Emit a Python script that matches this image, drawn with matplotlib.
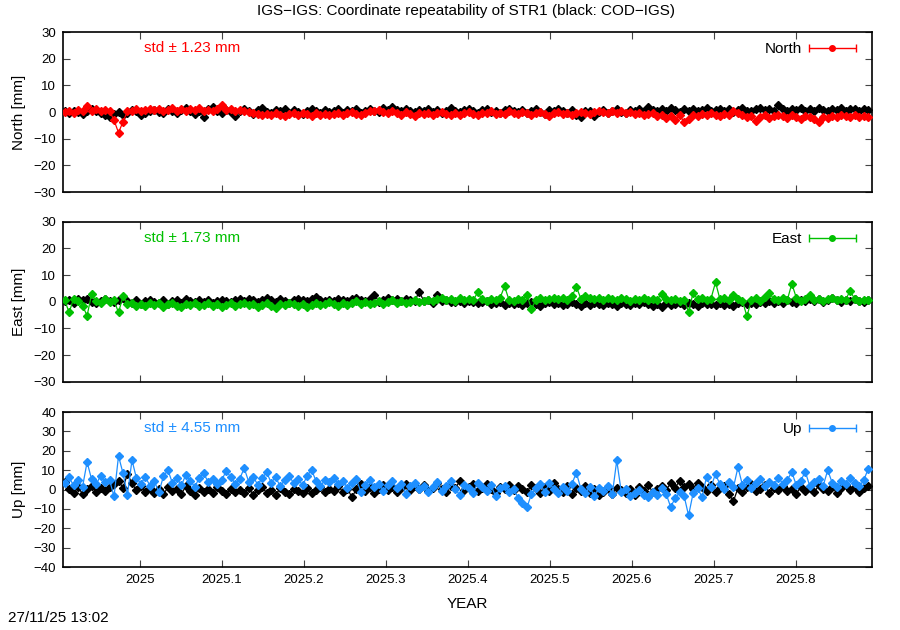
import numpy as np
import matplotlib.pyplot as plt
from matplotlib.ticker import MultipleLocator, FuncFormatter
from matplotlib.legend_handler import HandlerErrorbar
from matplotlib.container import ErrorbarContainer

plt.rcParams['font.family'] = ['Liberation Sans', 'DejaVu Sans']
plt.rcParams['font.size'] = 11

# epochs: one solution every two days
t0 = 2024.908
step = 2 / 365.25
n = 180

# North [mm]
north_cod = [
    0.3, -0.5, 0.6, 0.2, -0.8, 0.4, 1.0, 0.5, -0.3, -1.2, -1.8, -0.6, 0.2, -0.9, -0.4, 0.7, 0.3, -1.0, -0.2, 0.5,
    0.9, 0.2, -0.4, 1.2, 0.6, -0.3, 0.8, 1.4, 0.3, -0.7, 0.5, -1.9, 1.0, 2.0, 0.4, -0.5, 0.9, 0.2, -1.6, 0.6,
    1.1, 0.3, -0.6, 0.8, 1.5, 0.2, -0.4, 0.9, 0.5, 1.3, -0.2, 0.7, 0.1, -0.8, 0.6, 1.2, 0.4, -0.3, 0.8, 0.2,
    0.5, 1.1, -0.2, 0.7, 0.3, 1.0, -0.5, 0.4, 1.3, 0.6, 0.2, 1.5, 0.8, 1.9, 0.9, 0.3, 1.2, 0.5, -0.1, 0.7,
    0.4, 1.1, 0.2, 0.8, -0.3, 0.5, 1.4, 0.6, 0.1, 0.9, 1.2, 0.3, -0.4, 0.7, 1.0, 0.2, 0.6, -0.5, 0.8, 1.3,
    0.5, 0.1, 0.9, -0.3, 0.6, 1.1, 0.2, -0.6, 0.7, 0.3, 1.0, 0.4, -0.2, 0.8, -0.9, -1.8, 0.3, 0.6, -1.5, 0.2,
    0.7, -0.4, 0.5, 1.0, 0.2, -0.3, 0.8, 0.4, 1.3, 0.6, 1.8, 0.9, 0.3, 1.1, 0.5, 1.4, 0.7, 0.2, 1.0, 0.6,
    1.2, 0.4, 0.9, 1.5, 0.3, 0.8, 1.1, 0.5, 1.3, 0.2, 0.9, 1.6, 0.6, 0.4, 1.0, 1.4, 0.7, 1.1, 0.3, 2.6,
    1.0, 0.5, 1.3, 0.8, 1.7, 0.4, 1.1, 0.6, 1.4, 0.9, 0.3, 1.2, 0.7, 1.5, 0.5, 1.0, 1.3, 0.6, 1.1, 0.8,
]
north_igs = [
    0.2, 0.6, -0.3, 0.8, 0.4, 2.4, 0.5, 1.0, 0.3, 0.7, 0.4, -3.0, -7.7, -3.6, 0.3, 0.6, 1.1, 0.4, 0.9, 1.3,
    0.7, 1.2, 0.5, 0.9, 1.4, 0.6, 1.0, 0.3, 1.1, 0.8, 1.5, 0.4, 0.9, 0.6, 1.2, 2.8, 0.7, 1.0, 0.3, 0.8,
    0.5, 0.2, -0.4, -0.8, -1.2, -0.6, -1.0, -0.3, -0.9, -1.4, -0.7, -0.2, -1.1, -0.5, -0.8, -1.3, -0.4, -0.9, -0.6, -1.0,
    -0.7, -0.3, -1.1, -0.5, 0.2, -0.8, -1.2, -0.4, 0.3, 0.6, 0.9, 0.2, -0.3, 0.5, -0.2, -0.9, 0.1, -0.6, -1.3, -0.4,
    -0.8, -0.2, -1.0, -0.5, 0.1, -0.7, -1.2, -0.3, -0.9, -0.4, 0.2, -0.6, -1.1, -0.5, -0.2, 0.4, -0.8, -0.3, -0.6, 0.3,
    -0.2, -0.7, 0.1, -0.4, -0.9, -0.3, 0.2, -0.6, -1.3, -0.5, 0.0, -0.8, -0.3, -1.0, -0.5, 0.2, -0.4, -0.7, -0.1, 0.3,
    0.1, -0.3, 0.4, -0.2, 0.3, -0.5, 0.0, -0.8, -0.4, -1.1, -0.6, -0.2, -1.3, -0.9, -2.2, -1.5, -2.8, -1.2, -3.6, -2.4,
    -1.0, -1.6, -0.7, -1.2, -0.4, -0.9, -1.5, -0.6, -1.1, 0.3, -0.5, -1.0, -2.0, -1.4, -3.2, -1.8, -1.1, -2.3, -1.5, -0.9,
    -1.6, -2.1, -1.2, -1.8, -2.6, -1.4, -1.9, -2.4, -3.8, -1.7, -2.2, -1.3, -1.9, -1.0, -1.6, -2.0, -1.2, -1.8, -1.4, -1.7,
]

# East [mm]
east_cod = [
    0.2, 0.8, -0.3, 1.2, 0.5, 0.9, 0.1, -0.6, 0.4, 1.0, 0.3, -0.2, 0.6, 1.3, 0.2, -0.4, 0.5, -0.9, 0.3, 0.7,
    0.1, -0.3, 0.6, -0.8, 0.2, 0.5, -0.5, 0.9, 0.3, -0.2, 0.7, 0.1, 0.6, -0.4, 0.4, 0.8, 0.2, -0.1, 0.5, 0.9,
    0.3, 1.1, 0.6, -0.2, 0.8, 1.4, 0.5, 0.1, 0.9, 0.4, -0.3, 0.7, 1.2, 0.6, 0.2, 0.9, 1.8, 0.5, 0.3, 0.8,
    0.4, 1.0, 0.6, 0.2, 0.9, 1.5, 0.7, 0.3, 1.2, 2.6, 0.1, 0.8, 1.3, 0.5, 0.9, 0.2, 1.0, 0.6, 0.3, 3.8,
    0.3, 0.6, -0.4, 2.5, 0.2, 0.5, -0.2, 0.1, 0.4, -0.5, 0.3, 0.0, -0.6, -0.2, 0.2, -0.8, -0.3, 0.1, -1.2, -0.5,
    -0.8, -0.3, -1.1, -0.5, 0.1, -0.9, -1.4, -0.6, -0.2, -1.0, -0.4, -1.3, -0.7, -0.1, -0.9, -1.6, -0.5, -1.1, -0.3, -0.8,
    -1.2, -0.5, -0.9, -1.5, -0.4, -0.8, -1.3, -0.6, -1.0, -0.2, -0.7, -1.4, -0.9, -1.8, -0.5, -1.1, -0.8, -0.3, -1.2, -0.6,
    -0.9, -1.5, -0.4, -1.0, -0.7, -1.3, -0.5, -1.1, -0.8, -1.6, -0.6, -0.2, -1.0, -0.4, -0.9, -0.1, -0.6, 0.3, -0.5, 0.2,
    -0.3, 0.5, 0.1, -0.4, 0.8, 0.3, 1.2, 0.4, 0.9, -0.2, 0.6, 1.5, 0.5, 0.1, 0.8, 0.3, 0.9, 0.4, -0.1, 0.6,
]
east_igs = [
    0.6, -4.0, 1.2, 0.3, -1.5, -5.2, 2.8, 0.4, -0.6, 0.9, -0.2, 0.5, -4.0, 2.0, -0.8, -0.3, -1.6, -0.9, -1.4, -0.5,
    -1.2, -0.6, -1.8, -1.0, -0.4, -1.5, -2.1, -0.8, -1.3, -0.5, -1.7, -1.1, -0.3, -1.4, -0.9, -2.0, -1.2, -0.6, -1.5, -1.0,
    -0.5, -1.3, -0.8, -1.9, -1.1, -0.4, -1.6, -2.4, -0.9, -1.2, -0.3, -1.0, -1.5, -0.7, -1.8, -1.1, -0.5, -1.3, -0.8, -0.2,
    -0.9, -1.4, -0.6, -1.1, -0.3, 0.4, -0.8, -0.2, -1.0, -0.5, 0.2, -0.7, -0.1, 0.5, -0.4, 0.3, -0.6, 0.1, 0.6, -0.2,
    0.2, 0.7, 0.3, 0.9, 1.3, 0.6, 1.1, 0.4, 1.5, 0.8, 1.2, 0.5, 3.5, 0.9, 0.3, 1.0, 0.6, 1.4, 5.8, 0.7,
    0.4, 1.1, 0.6, 2.6, -2.7, 0.8, 1.3, 0.5, 1.0, 1.6, 0.9, 1.4, 0.7, 2.0, 5.6, 1.2, 2.3, 1.5, 0.9, 1.3,
    0.8, 1.5, 1.1, 0.6, 1.3, 0.9, 0.4, 1.0, 0.7, 1.4, 0.5, 1.2, 0.8, 3.1, 0.9, 0.6, 1.1, 0.3, 0.8, -3.8,
    3.3, 1.0, 1.6, 0.7, 1.2, 7.3, 0.9, 1.5, 0.5, 2.6, 1.1, 0.4, -5.5, 0.8, 1.4, 0.2, 1.8, 3.4, 0.9, 0.6,
    1.3, 0.7, 6.8, 1.5, 0.4, 1.0, 2.4, 0.6, 1.2, 0.3, 0.9, 1.6, 0.5, 1.1, 0.8, 4.2, 1.0, 0.4, 0.7, 0.5,
]

# Up [mm]
up_cod = [
    3.8, 0.5, -1.6, 1.2, -2.4, 0.3, 2.0, -1.1, 0.8, -0.6, 1.5, 2.6, 4.4, 1.0, 8.0, 3.2, -0.5, 1.8, -1.4, 0.6,
    -1.8, 0.4, -2.5, 1.1, -0.9, 0.2, -2.2, 1.6, -1.0, -2.8, 0.7, -1.5, 0.1, -2.0, 1.3, -0.7, -2.4, 0.5, -1.2, -0.3,
    -1.9, 0.8, -2.6, -0.4, 1.2, -1.7, -0.2, -2.9, 0.6, -1.1, -2.3, 0.3, -0.8, -1.6, 0.9, -2.0, -0.5, 1.5, -1.3, 0.2,
    -0.6, 1.8, -1.4, 0.5, -4.0, 0.2, 2.6, -0.9, 1.1, -1.8, 0.4, 2.2, -0.3, 1.4, -1.2, 0.7, 3.1, -0.5, 1.6, 0.1,
    2.4, -0.7, 1.0, 3.5, 0.3, -1.5, 1.9, 0.6, 4.2, -0.4, 1.3, 2.7, -1.0, 0.8, 3.0, 0.2, -1.7, 1.5, 0.4, 2.1,
    -0.5, 1.7, 0.3, -1.4, 2.5, 0.8, -2.0, 1.2, -0.6, 3.3, 0.5, -1.1, 1.8, -2.5, 0.7, -0.9, 2.0, -1.6, 0.4, -3.0,
    -1.2, 0.6, -2.2, 0.9, -0.4, -1.8, 0.3, -2.6, 1.1, -0.7, 2.4, -1.3, 0.5, 1.8, -0.2, 3.2, 0.8, 4.6, 1.5, 2.8,
    0.4, 3.6, 1.2, -0.6, 2.3, -1.5, 0.9, 2.0, -2.4, -6.0, 0.7, -1.1, 1.4, 3.0, -0.8, 0.5, 2.2, -1.9, 0.9, -0.3,
    1.6, -1.0, 0.4, -2.2, 1.3, -0.6, 0.9, -1.5, 2.1, 0.2, -0.8, 1.5, -1.9, 0.6, 2.4, -0.4, 1.1, -1.2, 0.8, 1.7,
]
up_igs = [
    3.5, 6.2, 2.1, 4.8, 1.5, 14.2, 5.3, 2.6, 7.1, 3.9, 5.0, -3.6, 17.3, 8.4, -2.6, 15.2, 5.8, 3.1, 6.5, 1.9,
    4.2, -1.5, 6.8, 10.1, 3.4, 5.9, 2.2, 7.5, 4.6, 1.3, 6.1, 8.3, 3.7, 5.2, 2.8, 4.9, 9.6, 6.4, 3.0, 5.5,
    11.0, 4.1, 6.7, 2.5, 5.8, 8.9, 3.6, 6.3, 1.8, 4.7, 7.2, 3.3, 5.6, 2.1, 6.9, 10.2, 4.4, 1.6, 5.1, 3.8,
    6.0, 2.7, 4.3, 0.9, 3.5, 5.2, -1.2, 2.4, 4.8, 1.1, 3.0, -0.8, 2.2, 4.5, 0.6, 2.9, -2.1, 1.7, 3.6, 0.3,
    2.0, -1.5, 1.2, 3.8, -0.6, 1.9, 4.6, 0.4, -2.8, 2.5, 0.8, -1.9, 3.4, 1.3, -0.9, 2.1, -3.5, 0.7, 1.8, -1.1,
    0.5, -4.2, -6.8, -9.1, -2.4, 0.9, 2.6, -1.3, 3.3, 0.2, -2.0, 1.5, -0.7, 2.8, 8.7, 0.4, -1.6, 1.1, -3.2, 0.6,
    -0.8, 1.9, -2.5, 15.0, -1.1, 0.3, -3.4, -1.8, -0.5, -2.7, -4.1, -1.2, -3.0, 0.8, -2.2, -9.0, -4.6, -1.5, -3.3, -13.4,
    -2.0, 0.6, -3.8, 6.5, 1.4, 8.0, 2.6, 0.2, 3.9, 1.1, 11.5, 2.3, 4.8, 0.9, 3.2, 5.4, 1.7, 4.1, 2.5, 6.0,
    3.1, 5.0, 9.0, 2.2, 4.6, 9.2, 1.8, 3.7, 5.5, 2.0, 10.0, 3.4, 1.2, 4.4, 2.8, 6.1, 3.5, 1.6, 4.7, 10.5,
]

components = ['North', 'East', 'Up']
stds = [1.23, 1.73, 4.55]
colors = ['#ff0000', '#00c000', '#1e8fff']
limits = [(-30, 30), (-30, 30), (-40, 40)]
cod_data = [north_cod, east_cod, up_cod]
igs_data = [north_igs, east_igs, up_igs]

t = t0 + step * np.arange(n)

fig = plt.figure(figsize=(9, 6.3), dpi=100)
# axes boxes in figure fractions: left, bottom, width, height
boxes = [(0.07, 0.695, 0.899, 0.254),
         (0.07, 0.394, 0.899, 0.254),
         (0.07, 0.100, 0.899, 0.246)]

for k in range(3):
    ax = fig.add_axes(boxes[k])
    c = colors[k]
    ax.plot(t, cod_data[k], '-D', color='black', lw=0.9, ms=3.9, zorder=2)
    ax.plot(t, igs_data[k], '-D', color=c, lw=0.9, ms=3.9, zorder=3)

    h = ax.errorbar([np.nan], [np.nan], xerr=[1], fmt='o', color=c, ms=4,
                    lw=1, capsize=3)
    ax.legend([h], [components[k]], loc='upper right', frameon=False,
              markerfirst=False, handlelength=3.8, fontsize=11,
              borderaxespad=0.4, handletextpad=0.1,
              bbox_to_anchor=(1.002, 1.012),
              handler_map={ErrorbarContainer: HandlerErrorbar(xerr_size=1.55)})

    ax.text(0.159, 0.9, 'std \u00b1 %.2f mm' % stds[k], color=c,
            transform=ax.transAxes, ha='center', va='center', fontsize=11)

    ax.set_xlim(2024.906, 2025.893)
    ax.set_ylim(*limits[k])
    ax.yaxis.set_major_locator(MultipleLocator(10))
    ax.xaxis.set_major_locator(MultipleLocator(0.1))
    ax.tick_params(direction='in', top=True, right=True, length=5,
                   width=0.8, labelsize=9.5, labelcolor='black',
                   color='#444444', pad=5)
    ax.set_ylabel('%s [mm]' % components[k], fontsize=11, labelpad=5)
    for s in ax.spines.values():
        s.set_linewidth(1.2)
    if k < 2:
        ax.tick_params(labelbottom=False)
    else:
        ax.xaxis.set_major_formatter(FuncFormatter(
            lambda v, p: ('%.1f' % v).rstrip('0').rstrip('.')))
        ax.set_xlabel('YEAR', fontsize=11, labelpad=8)

fig.text(0.5175, 0.983, 'IGS\u2212IGS: Coordinate repeatability of STR1 (black: COD\u2212IGS)',
         ha='center', va='center', fontsize=11)
fig.text(0.009, 0.008, '27/11/25 13:02', fontsize=11, ha='left', va='bottom')

fig.savefig('out.png', dpi=100)
